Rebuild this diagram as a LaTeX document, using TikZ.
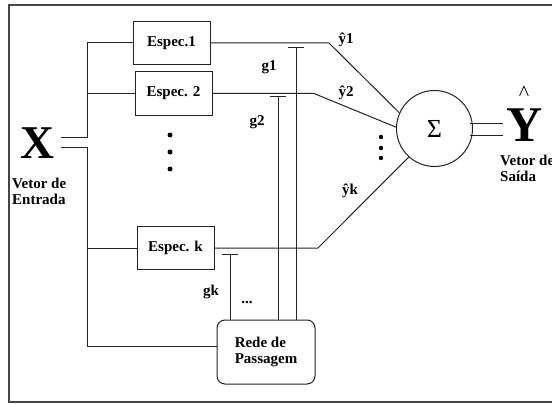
\documentclass[tikz,border=0pt]{standalone}
\usepackage{fontspec}
\setmainfont{Liberation Serif}
\usetikzlibrary{positioning, calc}
\definecolor{cFrame}{RGB}{70,70,70}
\definecolor{cLine}{RGB}{35,35,35}
\tikzset{
	espec/.style={rectangle, draw=cLine, line width=1pt, minimum width=77pt, minimum height=43pt, inner sep=2pt, align=center, font=\bfseries\fontsize{15}{16}\selectfont},
	rede/.style ={rectangle, rounded corners=8pt, draw=cLine, line width=1pt, minimum width=98pt, minimum height=64pt, align=left, font=\bfseries\fontsize{15}{16}\selectfont},
	soma/.style ={circle, draw=cLine, line width=1pt, minimum size=76pt, inner sep=0pt, font=\fontsize{26}{26}\selectfont},
	wire/.style ={cLine, line width=1pt},
	lbl/.style  ={font=\bfseries\fontsize{15}{16}\selectfont, inner sep=0pt},
	big/.style  ={font=\bfseries\fontsize{#1}{#1}\selectfont, inner sep=0pt, anchor=base},
}

\begin{document}
\begin{tikzpicture}[x=1pt, y=-1pt]
	\useasboundingbox (0,0) rectangle (552,404);
	% frame (cut at the right)
	\draw[cFrame, line width=1.4pt] (560,5) -- (9,5) -- (9,402) -- (560,402);
	% input / output vectors
	\node[big=47] (xin) at (37.5,158) {X};
	\node[lbl, anchor=west, align=left] (xtxt) at (12,191) {Vetor de\\Entrada};
	\node[big=50] (yout) at (525,142) {Y};
	\node[font=\fontsize{22}{22}\selectfont, inner sep=0pt] (yhat) at (524,93) {\textasciicircum};
	\node[lbl, anchor=west, align=left] (ytxt) at (500,168) {Vetor de\\Saída};
	% experts, gating net and sum
	\node[espec] (e1) at (171.5,43) {Espec.1};
	\node[espec] (e2) at (173.5,93.5) {Espec. 2};
	\node[espec] (ek) at (175.5,248) {Espec. k};
	\node[rede] (rp) at (266,352) {Rede de\\Passagem};
	\node[soma] (sum) at (434.5,128.5) {Σ};
	\foreach \y in {135,152,169} \fill (170,\y) circle (2.5pt);
	\foreach \y in {137,148,158} \fill (381,\y) circle (2.2pt);
	% input bus
	\coordinate (xa) at (61,137);
	\coordinate (xb) at (61,147);
	\coordinate (bus) at (87,0);
	\coordinate (rin) at ([yshift=6pt]rp.west);
	\draw[wire] (xa) -| (bus |- e1.west) -- (e1.west);
	\draw[wire] (bus |- e2.west) -- (e2.west);
	\draw[wire] (xb) -| (bus |- rin) -- (rin);
	\draw[wire] (bus |- ek.west) -- (ek.west);
	% expert outputs into the sum
	\coordinate (b1) at (329,43);
	\coordinate (b2) at (314,93.5);
	\coordinate (bk) at (318,248);
	\draw[wire] (e1.east) -- (b1) -- (sum.156);
	\draw[wire] (e2.east) -- (b2) -- (sum.178);
	\draw[wire] (ek.east) -- (bk) -- (sum.228);
	\node[lbl] (y1) at (346,40) {\^{y}1};
	\node[lbl] (y2) at (346,93) {\^{y}2};
	\node[lbl] (yk) at (350,191) {\^{y}k};
	% gates
	\coordinate (g1t) at (296,48);
	\coordinate (g2t) at (278,97);
	\coordinate (gkt) at (230,254);
	\foreach \g in {g1t,g2t,gkt} {
		\draw[wire] (\g) -- (\g |- rp.north);
		\draw[wire] ([xshift=-8pt]\g) -- ([xshift=8pt]\g);
	}
	\node[lbl] (g1) at (269,67) {g1};
	\node[lbl] (g2) at (257,122) {g2};
	\node[lbl] (gk) at (211,292) {gk};
	\node[lbl] (gdots) at (247,302) {...};
	% sum to output
	\draw[wire] (470,123) -- (503,123);
	\draw[wire] (470,135) -- (503,135);
\end{tikzpicture}
\end{document}
